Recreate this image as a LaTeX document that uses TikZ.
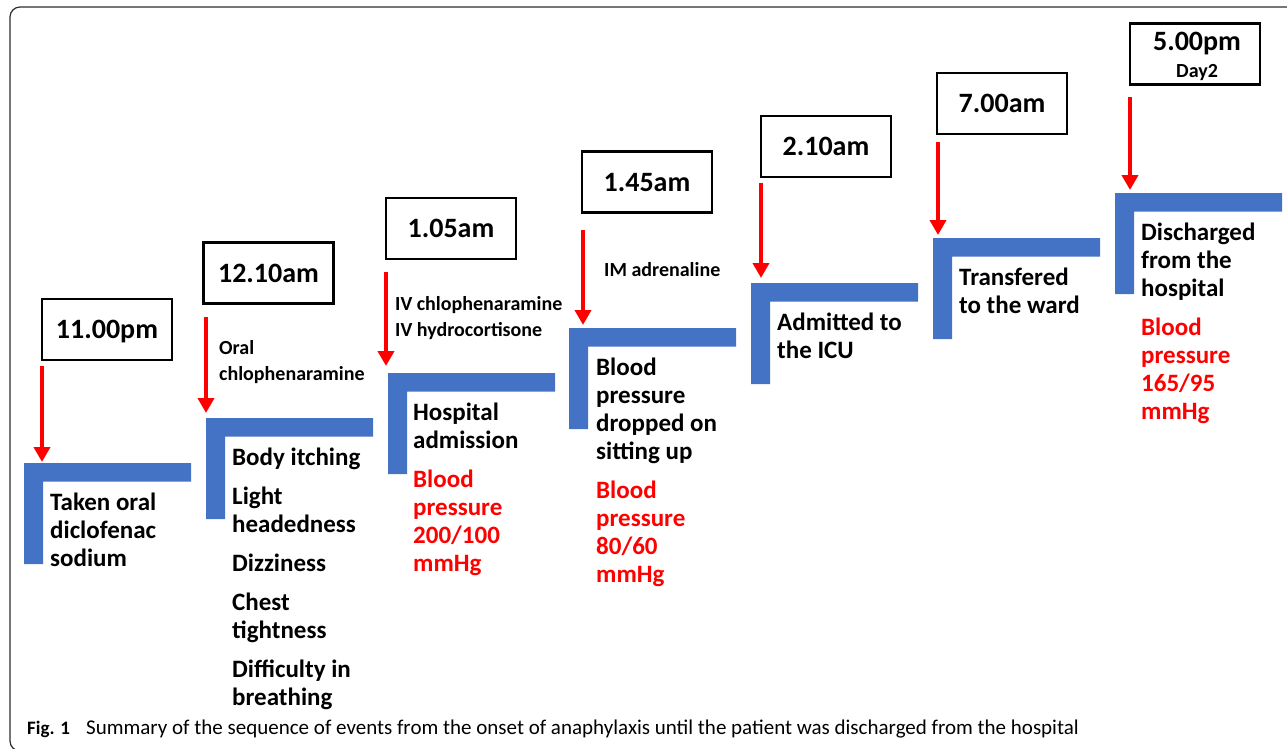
\documentclass[tikz,border=0pt]{standalone}
\usepackage{fontspec}
\setmainfont{Carlito}
\usetikzlibrary{positioning}
\usetikzlibrary{arrows.meta}
\definecolor{blue}{RGB}{68,114,196}
\definecolor{red}{RGB}{255,0,0}
\definecolor{framegray}{RGB}{45,45,45}

\tikzset{
    timebox/.style={draw, line width=2.2pt, minimum width=130pt, minimum height=61pt, inner sep=0pt,
        font=\fontsize{28}{30}\selectfont\bfseries, text height=18pt, text depth=0pt},
    event/.style={anchor=north west, inner sep=0pt, align=left,
        font=\fontsize{25}{28}\selectfont\bfseries, execute at begin node=\strut},
    drug/.style={anchor=north west, inner sep=0pt, align=left,
        font=\fontsize{20}{26}\selectfont\bfseries, execute at begin node=\strut},
    onset/.style={-{Triangle[length=15pt,width=16pt]}, red, line width=4pt},
    stepL/.pic={\fill[blue] (0,0) rectangle (167,18.5) (0,0) rectangle (19,101);}
}

\begin{document}
\begin{tikzpicture}[x=1pt, y=-1pt]
    \useasboundingbox (0,0) rectangle (1287,749);
    \clip (0,0) rectangle (1287,749);
    \draw[framegray, line width=1.2pt, rounded corners=10pt] (1300,7) -- (10,7) -- (10,751) -- (1300,751);

    % steps
    \pic at (24,463) {stepL};
    \pic at (206,418) {stepL};
    \pic at (388,373) {stepL};
    \pic at (569,328) {stepL};
    \pic at (751,283) {stepL};
    \pic at (933,238) {stepL};
    \pic at (1115,193) {stepL};

    % times
    \node[timebox] (t1) at (107,329.5) {11.00pm};
    \node[timebox] (t2) at (268.5,273) {12.10am};
    \node[timebox] (t3) at (451,228.5) {1.05am};
    \node[timebox] (t4) at (647,182) {1.45am};
    \node[timebox] (t5) at (826,146.5) {2.10am};
    \node[timebox] (t6) at (1002,103.5) {7.00am};
    \node[timebox] (t7) at (1195,54) {};
    \node[font=\fontsize{28}{30}\selectfont\bfseries, inner sep=0pt, text height=18pt, text depth=0pt] (t7time) at (1197,42) {5.00pm};
    \node[font=\fontsize{20}{24}\selectfont\bfseries, inner sep=0pt, text height=13pt, text depth=0pt] (t7day) at (1197,71) {Day2};

    % arrows
    \coordinate (s1) at (42,366);    \coordinate (c1) at (42,462);
    \coordinate (s2) at (206,317);   \coordinate (c2) at (206,413);
    \coordinate (s3) at (386,272);   \coordinate (c3) at (386,366);
    \coordinate (s4) at (583,230);   \coordinate (c4) at (583,325);
    \coordinate (s5) at (761,183);   \coordinate (c5) at (761,278);
    \coordinate (s6) at (938,142);   \coordinate (c6) at (938,235);
    \coordinate (s7) at (1130,97);   \coordinate (c7) at (1130,190);
    \draw[onset] (s1) -- (c1);
    \draw[onset] (s2) -- (c2);
    \draw[onset] (s3) -- (c3);
    \draw[onset] (s4) -- (c4);
    \draw[onset] (s5) -- (c5);
    \draw[onset] (s6) -- (c6);
    \draw[onset] (s7) -- (c7);

    % treatments
    \node[drug] (d2) at (219,340) {Oral\\chlophenaramine};
    \node[drug] (d3) at (395,296) {IV chlophenaramine\\IV hydrocortisone};
    \node[drug] (d4) at (604,258) {IM adrenaline};

    % events
    \node[event] (e1) at (50,493) {Taken oral\\diclofenac\\sodium};
    \node[event] (e2) at (232,447.5) {Body itching\\[11pt]Light\\headedness\\[11pt]Dizziness\\[11pt]Chest\\tightness\\[11pt]Difficulty in\\breathing};
    \node[event] (e3) at (413,403) {Hospital\\admission};
    \node[event, red] (bp3) at (413,470) {Blood\\pressure\\200/100\\mmHg};
    \node[event] (e4) at (596,358) {Blood\\pressure\\dropped on\\sitting up};
    \node[event, red] (bp4) at (596,481) {Blood\\pressure\\80/60\\mmHg};
    \node[event] (e5) at (777,313) {Admitted to\\the ICU};
    \node[event] (e6) at (959,268) {Transfered\\to the ward};
    \node[event] (e7) at (1141,222.5) {Discharged\\from the\\hospital};
    \node[event, red] (bp7) at (1141,318) {Blood\\pressure\\165/95\\mmHg};

    % caption
    \node[anchor=base west, inner sep=0pt, font=\fontsize{19}{22}\selectfont\bfseries] (fig) at (27,734) {Fig. 1};
    \node[anchor=base west, inner sep=0pt, font=\fontsize{21}{24}\selectfont] (caption) at (86,734) {Summary of the sequence of events from the onset of anaphylaxis until the patient was discharged from the hospital};
\end{tikzpicture}
\end{document}
